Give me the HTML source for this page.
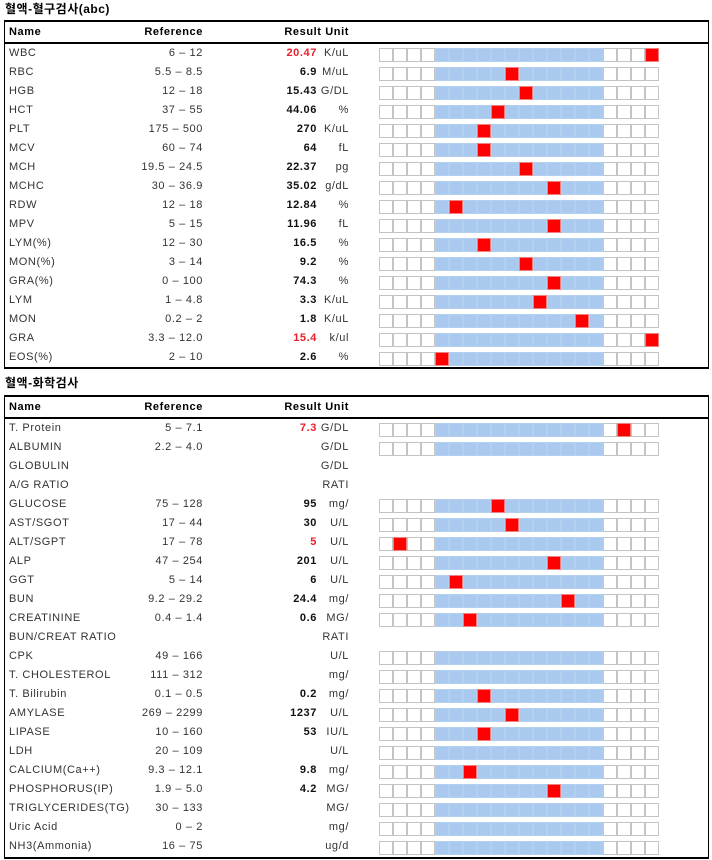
<!DOCTYPE html>
<html><head><meta charset="utf-8">
<style>
body{margin:0;width:712px;height:860px;background:#fff;position:relative;font-family:"Liberation Sans","Noto Sans CJK KR",sans-serif;font-size:11px;color:#333;overflow:hidden}
.title{position:absolute;left:5px;font-weight:bold;font-size:12px;color:#000;letter-spacing:0.5px}
.tbl{position:absolute;left:4px;width:703px;border:1px solid #000;border-top-width:2px;border-bottom-width:2px}
.hdr{position:absolute;left:0;right:0;top:0;border-bottom:2px solid #000;font-weight:bold;color:#000}
.t{position:absolute;white-space:nowrap;letter-spacing:0.6px}
.cell{position:absolute;width:12px;height:12px;border:1px solid #c4c4c4;background:#fff}
.cell.b{background:#a9c9ee;border-color:#b4d0f0}
.cell.r{background:#f00;border-color:#f08080}
</style></head><body>
<div class="title" style="top:0px">혈액-혈구검사(abc)</div>
<div class="tbl" id="t1" style="top:20px;height:345px"></div>
<div class="title" style="top:374px">혈액-화학검사</div>
<div class="tbl" id="t2" style="top:395px;height:460px"></div>
<script>
// table 1 data
const names1=["WBC","RBC","HGB","HCT","PLT","MCV","MCH","MCHC","RDW","MPV","LYM(%)","MON(%)","GRA(%)","LYM","MON","GRA","EOS(%)"];
const refs1=["6 – 12","5.5 – 8.5","12 – 18","37 – 55","175 – 500","60 – 74","19.5 – 24.5","30 – 36.9","12 – 18","5 – 15","12 – 30","3 – 14","0 – 100","1 – 4.8","0.2 – 2","3.3 – 12.0","2 – 10"];
const results1=["20.47","6.9","15.43","44.06","270","64","22.37","35.02","12.84","11.96","16.5","9.2","74.3","3.3","1.8","15.4","2.6"];
const high1=[1,0,0,0,0,0,0,0,0,0,0,0,0,0,0,1,0];
const units1=["K/uL","M/uL","G/DL","%","K/uL","fL","pg","g/dL","%","fL","%","%","%","K/uL","K/uL","k/ul","%"];
const marks1=[19,9,10,8,7,7,10,12,5,12,7,10,12,11,14,19,4];
// table 2 data (-1 = grid without marker, null = no grid)
const names2=["T. Protein","ALBUMIN","GLOBULIN","A/G RATIO","GLUCOSE","AST/SGOT","ALT/SGPT","ALP","GGT","BUN","CREATININE","BUN/CREAT RATIO","CPK","T. CHOLESTEROL","T. Bilirubin","AMYLASE","LIPASE","LDH","CALCIUM(Ca++)","PHOSPHORUS(IP)","TRIGLYCERIDES(TG)","Uric Acid","NH3(Ammonia)"];
const refs2=["5 – 7.1","2.2 – 4.0","","","75 – 128","17 – 44","17 – 78","47 – 254","5 – 14","9.2 – 29.2","0.4 – 1.4","","49 – 166","111 – 312","0.1 – 0.5","269 – 2299","10 – 160","20 – 109","9.3 – 12.1","1.9 – 5.0","30 – 133","0 – 2","16 – 75"];
const results2=["7.3","","","","95","30","5","201","6","24.4","0.6","","","","0.2","1237","53","","9.8","4.2","","",""];
const high2=[1,0,0,0,0,0,1,0,0,0,0,0,0,0,0,0,0,0,0,0,0,0,0];
const units2=["G/DL","G/DL","G/DL","RATI","mg/","U/L","U/L","U/L","U/L","mg/","MG/","RATI","U/L","mg/","mg/","U/L","IU/L","U/L","mg/","MG/","MG/","mg/","ug/d"];
const marks2=[17,-1,null,null,8,9,1,12,5,13,6,null,-1,-1,7,9,7,-1,6,12,-1,-1,-1];

function txt(parent,s,left,top,opts){
  const d=document.createElement('div');d.className='t';d.textContent=s;
  d.style.top=top+'px';
  if(opts&&opts.right!=null){d.style.right=(703-opts.right)+'px';}else d.style.left=left+'px';
  if(opts&&opts.bold)d.style.fontWeight='bold';
  if(opts&&opts.color)d.style.color=opts.color;
  parent.appendChild(d);return d;
}
function build(id,names,refs,results,high,units,marks){
  const T=document.getElementById(id);
  const h=document.createElement('div');h.className='hdr';h.style.height='20px';
  
  
  T.appendChild(h);
  let e;
  e=txt(h,'Name',4,4,{bold:1});
  e=txt(h,'Reference',0,4,{bold:1,right:198});
  e=txt(h,'Result Unit',0,4,{bold:1,right:344});
  const base=22;
  names.forEach((n,i)=>{
    const y=base+19*i;
    e=txt(T,n,4,y+3,{});
    if(refs[i]){e=txt(T,refs[i],0,y+3,{right:198});}
    if(results[i]){e=txt(T,results[i],0,y+3,{right:312,bold:1,color:high[i]?'#e8202a':'#111'});}
    e=txt(T,units[i],0,y+3,{right:344});
    if(marks[i]!==null){
      for(let c=0;c<20;c++){
        const d=document.createElement('div');
        d.className='cell'+(c===marks[i]?' r':(c>=4&&c<16?' b':''));
        d.style.left=(374+14*c)+'px';d.style.top=(y+4)+'px';
        
        
        T.appendChild(d);
      }
    }
  });
}
build('t1',names1,refs1,results1,high1,units1,marks1);
build('t2',names2,refs2,results2,high2,units2,marks2);
</script>
</body></html>
